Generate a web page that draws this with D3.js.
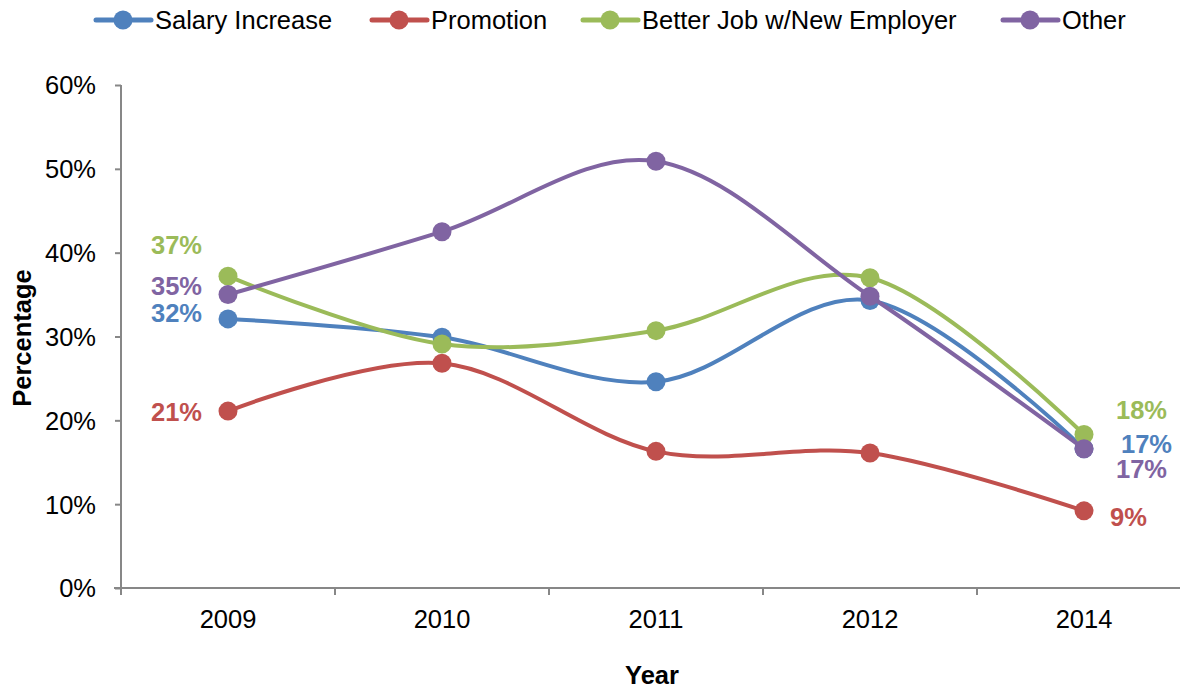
<!DOCTYPE html>
<html>
<head>
<meta charset="utf-8">
<script src="https://cdn.jsdelivr.net/npm/d3@7"></script>
<style>
  html, body { margin: 0; padding: 0; background: #fff; }
  svg { display: block; font-family: "Liberation Sans", Arial, sans-serif; }
</style>
</head>
<body>
<svg id="chart" width="1180" height="690"></svg>
<script>
// Reasons for leaving, share of respondents by year
const years = ["2009", "2010", "2011", "2012", "2014"];
const seriesNames = ["Salary Increase", "Promotion", "Better Job w/New Employer", "Other"];
const salaryIncrease = [0.321, 0.299, 0.246, 0.343, 0.166];
const promotion = [0.211, 0.268, 0.163, 0.161, 0.092];
const betterJob = [0.372, 0.291, 0.307, 0.370, 0.183];
const other = [0.350, 0.425, 0.509, 0.348, 0.166];
const yTicks = [0, 0.1, 0.2, 0.3, 0.4, 0.5, 0.6];
const colors = ["#4F81BD", "#C0504D", "#9BBB59", "#8064A2"];

const seriesValues = [salaryIncrease, promotion, betterJob, other];

const svg = d3.select("#chart");
const plotLeft = 121, plotRight = 1191, plotTop = 85, plotBottom = 588;
const fontSize = 25.5;

const x = d3.scaleBand().domain(years).range([plotLeft, plotRight]).paddingInner(0).paddingOuter(0);
const xc = d => x(d) + x.bandwidth() / 2;
const y = d3.scaleLinear().domain([0, 0.6]).range([plotBottom, plotTop]);

const axisColor = "#878787";

// Y axis
const yAxis = svg.append("g")
  .attr("transform", `translate(${plotLeft},0)`)
  .call(d3.axisLeft(y).tickValues(yTicks).tickFormat(d3.format(".0%")).tickSize(6).tickPadding(19));
yAxis.select(".domain").attr("stroke", axisColor).attr("stroke-width", 2).attr("d", `M0,${plotTop}V${plotBottom + 7}`);
yAxis.selectAll(".tick line").attr("stroke", axisColor).attr("stroke-width", 2);
yAxis.selectAll(".tick text").attr("fill", "#000").attr("font-size", fontSize).attr("dy", "0.35em");

// X axis: labels centred in each category, tick marks on category boundaries
const xAxis = svg.append("g")
  .attr("transform", `translate(0,${plotBottom})`)
  .call(d3.axisBottom(x).tickSize(0).tickPadding(22));
xAxis.select(".domain").attr("stroke", axisColor).attr("stroke-width", 2).attr("d", `M${plotLeft - 7},0H${plotRight}`);
xAxis.selectAll(".tick text").attr("fill", "#000").attr("font-size", fontSize).attr("dy", "0.71em");
xAxis.selectAll(".boundary")
  .data(years.slice(1))
  .enter().append("line")
  .attr("x1", d => x(d)).attr("x2", d => x(d))
  .attr("y1", 0).attr("y2", 7)
  .attr("stroke", axisColor).attr("stroke-width", 2);

// Axis titles
svg.append("text")
  .attr("transform", `translate(31,338) rotate(-90)`)
  .attr("text-anchor", "middle")
  .attr("font-size", fontSize).attr("font-weight", "bold")
  .text("Percentage");
svg.append("text")
  .attr("x", 652).attr("y", 684)
  .attr("text-anchor", "middle")
  .attr("font-size", fontSize).attr("font-weight", "bold")
  .text("Year");

// Smoothed lines and markers
const line = d3.line()
  .x((d, i) => xc(years[i]))
  .y(d => y(d))
  .curve(d3.curveCardinal.tension(0));

seriesValues.forEach((vals, s) => {
  const g = svg.append("g");
  g.append("path")
    .datum(vals)
    .attr("d", line)
    .attr("fill", "none")
    .attr("stroke", colors[s])
    .attr("stroke-width", 4)
    .attr("stroke-linejoin", "round");
  g.selectAll("circle")
    .data(vals)
    .enter().append("circle")
    .attr("cx", (d, i) => xc(years[i]))
    .attr("cy", d => y(d))
    .attr("r", 9.5)
    .attr("fill", colors[s]);
});

// Value labels on first and last points
const pct = d3.format(".0%");
const firstOffsets = [[-26, -6], [-26, 1], [-26, -31], [-26, -9]];
const lastOffsets = [[37, -5], [26, 6], [32, -25], [32, 20]];
seriesValues.forEach((vals, s) => {
  svg.append("text")
    .attr("x", xc(years[0]) + firstOffsets[s][0])
    .attr("y", y(vals[0]) + firstOffsets[s][1])
    .attr("dy", "0.35em")
    .attr("text-anchor", "end")
    .attr("font-size", fontSize).attr("font-weight", "bold")
    .attr("fill", colors[s])
    .text(pct(vals[0]));
  const n = vals.length - 1;
  svg.append("text")
    .attr("x", xc(years[n]) + lastOffsets[s][0])
    .attr("y", y(vals[n]) + lastOffsets[s][1])
    .attr("dy", "0.35em")
    .attr("text-anchor", "start")
    .attr("font-size", fontSize).attr("font-weight", "bold")
    .attr("fill", colors[s])
    .text(pct(vals[n]));
});

// Legend
const legendX = [96, 372, 583, 1003];
seriesNames.forEach((name, s) => {
  const g = svg.append("g").attr("transform", `translate(${legendX[s]},20)`);
  g.append("line").attr("x1", 0).attr("x2", 55).attr("y1", 0).attr("y2", 0)
    .attr("stroke", colors[s]).attr("stroke-width", 5).attr("stroke-linecap", "round");
  g.append("circle").attr("cx", 27).attr("cy", 0).attr("r", 9.5).attr("fill", colors[s]);
  g.append("text").attr("x", 59).attr("y", 0).attr("dy", "0.35em")
    .attr("font-size", fontSize).attr("fill", "#000").text(name);
});
</script>
</body>
</html>
